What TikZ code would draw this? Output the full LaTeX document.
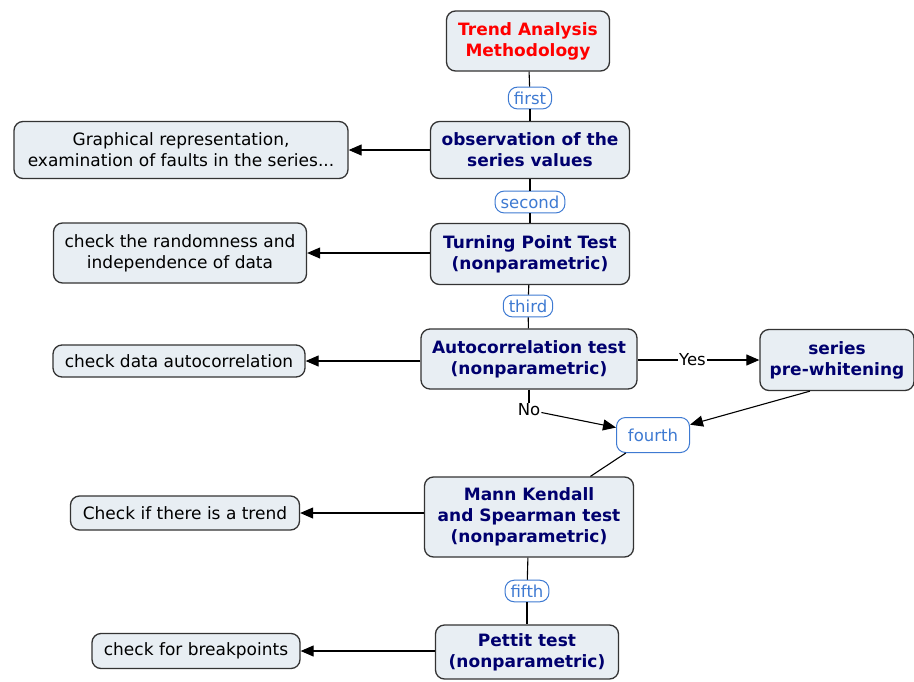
\documentclass[tikz,border=0pt]{standalone}
\usepackage{fontspec}
\setmainfont{DejaVu Sans}
\usetikzlibrary{arrows.meta}
\definecolor{boxfill}{RGB}{232,238,243}
\definecolor{navy}{RGB}{0,0,110}
\definecolor{linkblue}{RGB}{62,122,210}
\begin{document}
\begin{tikzpicture}
    [x=1pt, y=-1pt,
     concept/.style={draw=black!80, line width=1.3pt, rounded corners=9pt,
       fill=boxfill, align=center, inner sep=2pt, text=navy,
       font=\fontsize{17}{21}\selectfont\bfseries},
     note/.style={concept, text=black, font=\fontsize{17}{21}\selectfont},
     link/.style={draw=linkblue, fill=white, rounded corners=9pt, line width=1pt,
       text=linkblue, inner xsep=5.5pt, inner ysep=4.5pt, font=\fontsize{16.5}{18}\selectfont},
     arr/.style={-{Triangle[length=13pt,width=11pt]}, line width=1.1pt}]

    \useasboundingbox (0, 0) rectangle (914, 681);

    \node [concept, text=red, minimum width=163, minimum height=60] at (528, 41) (title) {Trend Analysis\\Methodology};
    \node [link] at (530, 98) (first) {first};
    \node [concept, minimum width=199, minimum height=57] at (530, 150) (obs) {observation of the\\series values};
    \node [note, minimum width=334, minimum height=57] at (181, 150) (graph) {Graphical representation,\\examination of faults in the series...};

    \node [link] at (530, 202) (second) {second};
    \node [concept, minimum width=199, minimum height=61] at (530, 254) (tpt) {Turning Point Test\\(nonparametric)};
    \node [note, minimum width=253, minimum height=60] at (180, 253) (random) {check the randomness and\\independence of data};

    \node [link] at (528, 306) (third) {third};
    \node [concept, minimum width=216, minimum height=60] at (529, 359) (acorr) {Autocorrelation test\\(nonparametric)};
    \node [note, minimum width=252, minimum height=32] at (179, 361) (chkacorr) {check data autocorrelation};
    \node [concept, minimum width=154, minimum height=61] at (837, 360) (white) {series\\pre-whitening};

    \node [inner sep=1pt, font=\fontsize{16.5}{18}\selectfont] at (529, 410) (no) {No};
    \node [link, minimum width=73, minimum height=35] at (653, 435) (fourth) {fourth};

    \node [concept, minimum width=209, minimum height=80] at (529, 517) (mk) {Mann Kendall\\and Spearman test\\(nonparametric)};
    \node [note, minimum width=229, minimum height=34] at (185, 513) (trend) {Check if there is a trend};

    \node [link] at (527, 591) (fifth) {fifth};
    \node [concept, minimum width=183, minimum height=54] at (527, 652) (pettit) {Pettit test\\(nonparametric)};
    \node [note, minimum width=208, minimum height=35] at (196, 651) (brk) {check for breakpoints};

    \draw [line width=1.1pt] (title) -- (first);
    \draw [line width=1.1pt] (first) -- (obs);
    \draw [arr] (obs) -- (graph);

    \draw [line width=1.1pt] (obs) -- (second);
    \draw [line width=1.1pt] (second) -- (tpt);
    \draw [arr] (tpt.west |- random) -- (random);

    \draw [line width=1.1pt] (tpt) -- (third);
    \draw [line width=1.1pt] (third) -- (acorr);
    \draw [arr] (acorr.west |- chkacorr) -- (chkacorr);
    \draw [arr] (acorr.east |- white) -- node [pos=0.45, fill=white, inner sep=1pt,
      font=\fontsize{16.5}{18}\selectfont] (yes) {Yes} (white);

    \draw [line width=1.1pt] (acorr) -- (no);
    \draw [arr] (no) -- (fourth);
    \draw [arr] (white.229) -- (fourth);
    \draw [line width=1.1pt] (fourth) -- (mk);

    \draw [arr] (mk.west |- trend) -- (trend);
    \draw [line width=1.1pt] (mk) -- (fifth);
    \draw [line width=1.1pt] (fifth) -- (pettit);
    \draw [arr] (pettit.west |- brk) -- (brk);

  \end{tikzpicture}
\end{document}
